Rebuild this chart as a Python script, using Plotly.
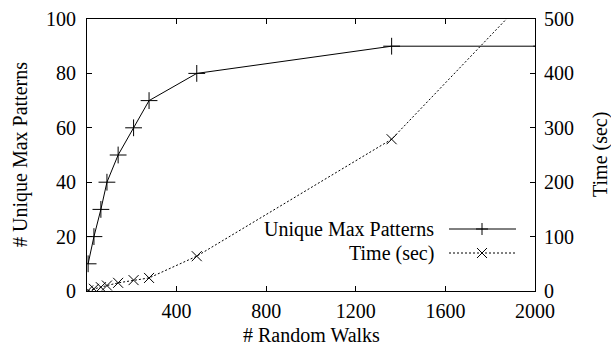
import plotly.graph_objects as go

# Data
random_walks = [5, 31, 62, 89, 139, 208, 277, 490, 1360, 2030]
unique_patterns = [10, 20, 30, 40, 50, 60, 70, 80, 90, 90]
time_sec = [1, 4, 7, 10, 15, 20, 24, 64, 279, 568]

x_ticks = [400, 800, 1200, 1600, 2000]
y_ticks = [0, 20, 40, 60, 80, 100]
y2_ticks = [0, 100, 200, 300, 400, 500]

FONT = "Liberation Serif"
FS = 20

W, H = 611, 346
L, R, T, B = 87, 76, 19, 55
PW, PH = W - L - R, H - T - B

def px_to_paper(px, py):
    return (px - L) / PW, (H - B - py) / PH

fig = go.Figure()
fig.add_trace(go.Scatter(
    x=random_walks, y=unique_patterns, name="Unique Max Patterns",
    mode="lines+markers",
    line=dict(color="black", width=1),
    marker=dict(symbol="cross-thin-open", size=12, line=dict(color="black", width=1)),
    yaxis="y", showlegend=False))
fig.add_trace(go.Scatter(
    x=random_walks, y=time_sec, name="Time (sec)",
    mode="lines+markers",
    line=dict(color="black", width=1, dash="2px,2px"),
    marker=dict(symbol="x-thin-open", size=10, line=dict(color="black", width=1)),
    yaxis="y2", showlegend=False))

axis_common = dict(
    showgrid=False, zeroline=False, showline=True, linecolor="black", linewidth=1,
    ticks="inside", ticklen=5, tickcolor="black", tickwidth=1, automargin=False,
    tickfont=dict(family=FONT, size=FS, color="black"),
)

fig.update_layout(
    width=W, height=H,
    margin=dict(l=L, r=R, t=T, b=B, pad=0),
    paper_bgcolor="white", plot_bgcolor="white",
    font=dict(family=FONT, size=FS, color="black"),
    xaxis=dict(range=[0, 2000], tickvals=x_ticks, mirror="ticks", ticklabelstandoff=2,
               **axis_common),
    yaxis=dict(range=[0, 100], tickvals=y_ticks, ticklabelstandoff=6, **axis_common),
    yaxis2=dict(range=[0, 500], tickvals=y2_ticks, overlaying="y", side="right",
                ticklabelstandoff=4, **axis_common),
)

# axis titles
fig.add_annotation(xref="paper", yref="paper", x=px_to_paper(311, 0)[0], y=px_to_paper(0, 335)[1],
                   text="# Random Walks", showarrow=False, xanchor="center", yanchor="middle",
                   font=dict(family=FONT, size=FS, color="black"))
fig.add_annotation(xref="paper", yref="paper", x=px_to_paper(20, 0)[0], y=px_to_paper(0, 155)[1],
                   text="# Unique Max Patterns", showarrow=False, textangle=-90,
                   xanchor="center", yanchor="middle",
                   font=dict(family=FONT, size=FS, color="black"))
fig.add_annotation(xref="paper", yref="paper", x=px_to_paper(600, 0)[0], y=px_to_paper(0, 155)[1],
                   text="Time (sec)", showarrow=False, textangle=-90,
                   xanchor="center", yanchor="middle",
                   font=dict(family=FONT, size=FS, color="black"))

# gnuplot-style key: text right-aligned, sample line to its right
key_rows = [
    ("Unique Max Patterns", 229, None, "plus"),
    ("Time (sec)", 253, "dash", "x"),
]
for label, py, dash, mk in key_rows:
    tx, ty = px_to_paper(436, py)
    fig.add_annotation(xref="paper", yref="paper", x=tx, y=ty, text=label,
                       showarrow=False, xanchor="right", yanchor="middle",
                       font=dict(family=FONT, size=FS, color="black"))
    x0, y0 = px_to_paper(449, py)
    x1, _ = px_to_paper(516, py)
    fig.add_shape(type="line", xref="paper", yref="paper", x0=x0, x1=x1, y0=y0, y1=y0,
                  line=dict(color="black", width=1, dash="2px,2px" if dash else "solid"))
    cx = 482
    if mk == "plus":
        segs = [((cx - 6, py), (cx + 6, py)), ((cx, py - 6), (cx, py + 6))]
    else:
        segs = [((cx - 5, py - 5), (cx + 5, py + 5)), ((cx - 5, py + 5), (cx + 5, py - 5))]
    for (ax_, ay_), (bx_, by_) in segs:
        p0 = px_to_paper(ax_, ay_)
        p1 = px_to_paper(bx_, by_)
        fig.add_shape(type="line", xref="paper", yref="paper",
                      x0=p0[0], y0=p0[1], x1=p1[0], y1=p1[1],
                      line=dict(color="black", width=1))

fig.write_html("out.html", config={"displayModeBar": False},
               post_script="document.body.style.margin='0';document.body.style.overflow='hidden';")
